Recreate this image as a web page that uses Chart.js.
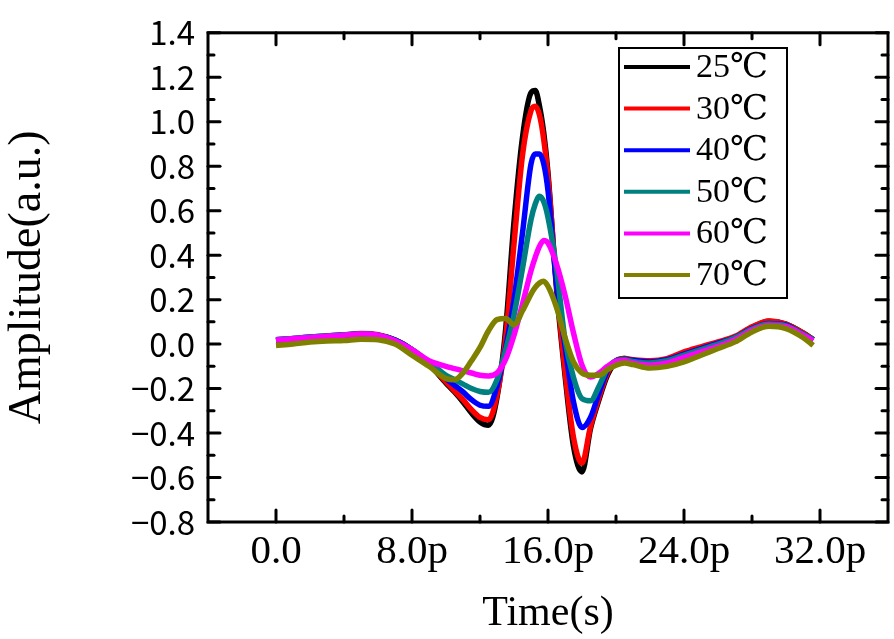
<!DOCTYPE html>
<html>
<head>
<meta charset="utf-8">
<script src="https://cdn.jsdelivr.net/npm/chart.js@4.4.1/dist/chart.umd.min.js"></script>
<style>
    html, body { margin: 0; padding: 0; background: #fff; }
    #wrap { width: 894px; height: 639px; }
</style>
</head>
<body>
<div id="wrap"><canvas id="chart" width="894" height="639"></canvas></div>
<script>
// time axis in ps
const times = [0, 1, 2, 3, 4, 5, 6, 7, 8, 9, 10, 10.5, 11, 11.5, 12, 12.5, 13, 13.5, 14, 14.5, 15, 15.25, 15.5, 15.75, 16, 16.5, 17, 17.5, 18, 18.5, 19, 19.5, 20, 20.5, 21, 22, 23, 24, 25, 26, 27, 28, 29, 30, 31, 31.6];

const amp25 = [0.015, 0.022, 0.03, 0.035, 0.04, 0.046, 0.04, 0.018, -0.025, -0.09, -0.175, -0.215, -0.26, -0.31, -0.35, -0.365, -0.24, 0.06, 0.55, 0.93, 1.13, 1.14, 1.07, 0.95, 0.77, 0.25, -0.14, -0.46, -0.575, -0.38, -0.25, -0.14, -0.08, -0.065, -0.075, -0.085, -0.072, -0.04, -0.02, 0.005, 0.03, 0.075, 0.103, 0.09, 0.05, 0.02];
const amp30 = [0.015, 0.022, 0.03, 0.035, 0.04, 0.048, 0.042, 0.018, -0.025, -0.09, -0.17, -0.21, -0.25, -0.295, -0.33, -0.34, -0.23, 0.02, 0.45, 0.85, 1.05, 1.07, 1.03, 0.92, 0.75, 0.27, -0.12, -0.42, -0.535, -0.37, -0.24, -0.13, -0.075, -0.065, -0.07, -0.075, -0.065, -0.035, -0.012, 0.01, 0.035, 0.078, 0.104, 0.09, 0.05, 0.02];
const amp40 = [0.02, 0.025, 0.032, 0.037, 0.042, 0.046, 0.04, 0.018, -0.025, -0.085, -0.155, -0.185, -0.215, -0.25, -0.275, -0.28, -0.19, -0.02, 0.2, 0.5, 0.81, 0.855, 0.855, 0.81, 0.69, 0.27, -0.01, -0.26, -0.375, -0.33, -0.22, -0.12, -0.075, -0.068, -0.073, -0.08, -0.07, -0.045, -0.02, 0.005, 0.03, 0.07, 0.093, 0.085, 0.045, 0.02];
const amp50 = [0.02, 0.025, 0.032, 0.037, 0.042, 0.046, 0.04, 0.016, -0.025, -0.08, -0.14, -0.16, -0.18, -0.2, -0.213, -0.217, -0.16, -0.03, 0.13, 0.34, 0.56, 0.63, 0.665, 0.64, 0.57, 0.34, 0.02, -0.15, -0.245, -0.255, -0.19, -0.11, -0.075, -0.07, -0.078, -0.085, -0.075, -0.05, -0.025, 0.0, 0.028, 0.068, 0.09, 0.082, 0.045, 0.02];
const amp60 = [0.018, 0.024, 0.03, 0.035, 0.04, 0.045, 0.04, 0.015, -0.025, -0.075, -0.1, -0.11, -0.12, -0.13, -0.14, -0.143, -0.13, -0.07, 0.04, 0.18, 0.33, 0.39, 0.44, 0.466, 0.455, 0.36, 0.22, 0.05, -0.095, -0.148, -0.13, -0.1, -0.078, -0.075, -0.085, -0.095, -0.085, -0.06, -0.035, -0.01, 0.02, 0.062, 0.085, 0.078, 0.04, 0.015];
const amp70 = [-0.006, 0.0, 0.009, 0.014, 0.016, 0.022, 0.02, 0.0, -0.05, -0.1, -0.155, -0.16, -0.13, -0.075, -0.015, 0.06, 0.11, 0.115, 0.087, 0.15, 0.225, 0.255, 0.275, 0.283, 0.26, 0.165, 0.03, -0.08, -0.13, -0.14, -0.14, -0.115, -0.095, -0.085, -0.092, -0.108, -0.1, -0.08, -0.05, -0.02, 0.01, 0.055, 0.08, 0.07, 0.03, -0.006];

const seriesLabels = ['25℃', '30℃', '40℃', '50℃', '60℃', '70℃'];
const seriesColors = ['#000000', '#ff0000', '#0000ff', '#008080', '#ff00ff', '#808000'];
const seriesValues = [amp25, amp30, amp40, amp50, amp60, amp70];

const xTickValues = [0, 8, 16, 24, 32];
const xMinorValues = [4, 12, 20, 28];
const yTickValues = [-0.8, -0.6, -0.4, -0.2, 0, 0.2, 0.4, 0.6, 0.8, 1.0, 1.2, 1.4];
const yMinorValues = [-0.7, -0.5, -0.3, -0.1, 0.1, 0.3, 0.5, 0.7, 0.9, 1.1, 1.3];

const serif = '"Liberation Serif", "DejaVu Serif", serif';

// box with inward ticks on all four sides
const framePlugin = {
    id: 'frame',
    afterDatasetsDraw(chart) {
        const { ctx, chartArea: a, scales: { x, y } } = chart;
        const mark = (x1, y1, x2, y2) => {
            ctx.beginPath();
            ctx.moveTo(x1, y1);
            ctx.lineTo(x2, y2);
            ctx.stroke();
        };

        ctx.save();
        ctx.strokeStyle = '#000';
        ctx.lineWidth = 3;
        ctx.strokeRect(a.left, a.top, a.right - a.left, a.bottom - a.top);
        ctx.lineCap = 'round';

        xTickValues.concat(xMinorValues).forEach((v) => {
            const len = xTickValues.includes(v) ? 12 : 6;
            const px = x.getPixelForValue(v);
            mark(px, a.bottom, px, a.bottom - len);
            mark(px, a.top, px, a.top + len);
        });
        yTickValues.concat(yMinorValues).forEach((v) => {
            const len = yTickValues.includes(v) ? 12 : 6;
            const py = y.getPixelForValue(v);
            mark(a.left, py, a.left + len, py);
            mark(a.right, py, a.right - len, py);
        });
        ctx.restore();
    },
};

const legendBoxPlugin = {
    id: 'legendBox',
    afterDraw(chart) {
        const { ctx } = chart;
        const box = { left: 619, top: 48, width: 168, height: 250 };

        ctx.save();
        ctx.strokeStyle = '#000';
        ctx.lineWidth = 2;
        ctx.strokeRect(box.left, box.top, box.width, box.height);

        chart.data.datasets.forEach((ds, i) => {
            const cy = 67 + i * 41.6;
            ctx.strokeStyle = ds.borderColor;
            ctx.lineWidth = 4;
            ctx.beginPath();
            ctx.moveTo(624, cy);
            ctx.lineTo(690, cy);
            ctx.stroke();

            ctx.fillStyle = '#000';
            ctx.font = `34px ${serif}`;
            ctx.textBaseline = 'middle';
            ctx.textAlign = 'left';
            ctx.fillText(ds.label, 696, cy + 1);
        });
        ctx.restore();
    },
};

new Chart(document.getElementById('chart'), {
    type: 'line',
    data: {
        datasets: seriesValues.map((values, i) => ({
            label: seriesLabels[i],
            data: times.map((t, j) => ({ x: t, y: values[j] })),
            borderColor: seriesColors[i],
            backgroundColor: seriesColors[i],
            borderWidth: 5.5,
            pointRadius: 0,
            cubicInterpolationMode: 'monotone',
            order: seriesValues.length - 1 - i,
        })),
    },
    options: {
        responsive: false,
        animation: false,
        devicePixelRatio: 1,
        layout: { padding: { top: 16, right: 6, left: 0, bottom: 0 } },
        plugins: { legend: { display: false }, tooltip: { enabled: false } },
        scales: {
            x: {
                type: 'linear',
                min: -4,
                max: 36,
                grid: { display: false, drawTicks: false },
                border: { display: false },
                afterBuildTicks: (scale) => {
                    scale.ticks = xTickValues.map((value) => ({ value }));
                },
                afterFit: (scale) => {
                    scale.height = 117;
                },
                ticks: {
                    color: '#000',
                    padding: 6,
                    maxRotation: 0,
                    font: { family: serif, size: 41 },
                    callback: (v) => (v === 0 ? '0.0' : `${v.toFixed(1)}p`),
                },
                title: {
                    display: true,
                    text: 'Time(s)',
                    color: '#000',
                    font: { family: serif, size: 42 },
                    padding: { top: 0, bottom: 0 },
                },
            },
            y: {
                min: -0.8,
                max: 1.4,
                grid: { display: false, drawTicks: false },
                border: { display: false },
                afterBuildTicks: (scale) => {
                    scale.ticks = yTickValues.map((value) => ({ value }));
                },
                afterFit: (scale) => {
                    scale.width = 208;
                },
                ticks: {
                    color: '#000',
                    padding: 13,
                    font: { family: '"Noto Sans CJK SC", "DejaVu Sans", sans-serif', size: 33 },
                    callback: (v) => (v < 0 ? `\u2212${Math.abs(v).toFixed(1)}` : v.toFixed(1)),
                },
                title: {
                    display: true,
                    text: 'Amplitude(a.u.)',
                    color: '#000',
                    font: { family: serif, size: 46 },
                    padding: { top: 0, bottom: 0 },
                },
            },
        },
    },
    plugins: [framePlugin, legendBoxPlugin],
});
</script>
</body>
</html>
